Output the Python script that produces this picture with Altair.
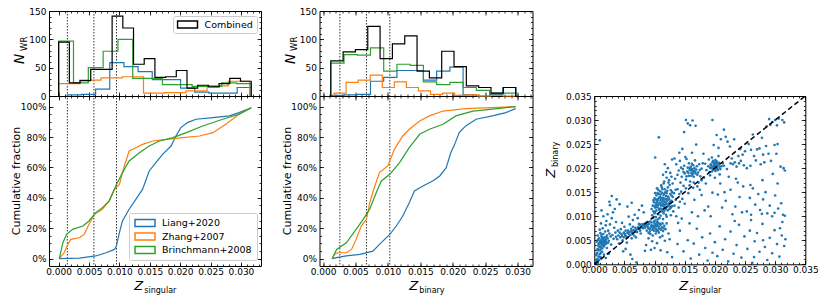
import altair as alt
import pandas as pd

FONT = "DejaVu Sans"
SERIES = ["Liang+2020", "Zhang+2007", "Brinchmann+2008"]
COLORS = ["#1f77b4", "#ff7f0e", "#2ca02c"]
COMB = "Combined"

# ---------------- Panel 1 (Z_singular) histograms ----------------
h1_comb_edges = [0.0, 0.00176, 0.00352, 0.00528, 0.00704, 0.0088, 0.01056, 0.01232, 0.01408, 0.01584,
                 0.0176, 0.01936, 0.02112, 0.02288, 0.02464, 0.0264, 0.02816, 0.02992, 0.03168]
h1_comb_counts = [95, 23, 27, 47, 47, 141, 120, 56, 66, 33, 34, 45, 14, 19, 16, 22, 31, 26]
h1_liang_edges = [0.00142, 0.00375, 0.00608, 0.00841, 0.01074, 0.01307, 0.0154, 0.01773, 0.02006,
                  0.02239, 0.02472, 0.02705, 0.02938, 0.03171]
h1_liang_counts = [2, 3, 12, 59, 52, 43, 29, 29, 14, 7, 5, 5, 15]
h1_zhang_edges = [0.0, 0.00349, 0.00698, 0.01047, 0.01396, 0.01745, 0.02094, 0.02443, 0.02792, 0.03141]
h1_zhang_counts = [22, 28, 32, 34, 5, 6, 9, 18, 26]
h1_brin_edges = [0.0, 0.00244, 0.00488, 0.00732, 0.00976, 0.0122, 0.01464, 0.01708, 0.01952, 0.02196,
                 0.0244, 0.02684, 0.02928, 0.03172]
h1_brin_counts = [97, 23, 50, 79, 100, 31, 31, 20, 20, 17, 17, 23, 22]

# ---------------- Panel 2 (Z_binary) histograms ----------------
h2_comb_edges = [0.0012, 0.0031, 0.0050, 0.0069, 0.0088, 0.0107, 0.0126, 0.0145, 0.0164, 0.0183,
                 0.0202, 0.0221, 0.0240, 0.0259, 0.0278, 0.0297]
h2_comb_counts = [62, 78, 82, 123, 66, 92, 106, 44, 32, 79, 52, 18, 15, 5, 15]
h2_brin_edges = [0.0012, 0.00324, 0.00528, 0.00732, 0.00936, 0.0114, 0.01344, 0.01548, 0.01752,
                 0.01956, 0.0216, 0.02364, 0.02568, 0.02772, 0.02976]
h2_brin_counts = [58, 73, 72, 85, 44, 56, 54, 25, 20, 24, 15, 10, 5, 5]
h2_liang_edges = h2_brin_edges
h2_liang_counts = [1, 2, 3, 26, 33, 45, 45, 28, 44, 51, 2, 0, 3, 15]
h2_zhang_edges = [0.0017, 0.00356, 0.00542, 0.00728, 0.00914, 0.011, 0.01286, 0.01472, 0.01658,
                  0.01844, 0.0203, 0.02216, 0.02402, 0.02588, 0.02774, 0.0296]
h2_zhang_counts = [5, 24, 28, 37, 15, 25, 15, 9, 3, 5, 1, 2, 0, 1, 0]

# ---------------- cumulative fractions ----------------
c1_liang_x = [0.0001, 0.0034, 0.0061, 0.0078, 0.0092, 0.0095, 0.0100, 0.0105, 0.0116, 0.0127, 0.0138,
              0.0149, 0.0160, 0.0171, 0.0185, 0.0193, 0.0201, 0.0212, 0.0226, 0.0254, 0.0281, 0.0297, 0.0317]
c1_liang_y = [0.0, 0.004, 0.018, 0.039, 0.061, 0.083, 0.171, 0.248, 0.325, 0.39, 0.456, 0.577, 0.632,
              0.686, 0.741, 0.807, 0.862, 0.895, 0.917, 0.928, 0.939, 0.961, 0.993]
c1_zhang_x = [0.0001, 0.0009, 0.0015, 0.0020, 0.0034, 0.0042, 0.0050, 0.0059, 0.0072, 0.0083, 0.0092,
              0.0100, 0.0108, 0.0116, 0.0127, 0.0138, 0.0155, 0.0177, 0.0204, 0.0232, 0.0254, 0.0275,
              0.0297, 0.0317]
c1_zhang_y = [0.0, 0.039, 0.094, 0.127, 0.138, 0.160, 0.226, 0.292, 0.325, 0.379, 0.456, 0.489, 0.610,
              0.708, 0.730, 0.752, 0.774, 0.785, 0.796, 0.807, 0.829, 0.884, 0.950, 0.993]
c1_brin_x = [0.0001, 0.0007, 0.0013, 0.0023, 0.0040, 0.0050, 0.0061, 0.0072, 0.0083, 0.0094, 0.0105,
             0.0116, 0.0133, 0.0149, 0.0166, 0.0188, 0.0210, 0.0237, 0.0270, 0.0297, 0.0317]
c1_brin_y = [0.0, 0.105, 0.160, 0.193, 0.215, 0.248, 0.303, 0.336, 0.379, 0.478, 0.566, 0.643, 0.697,
             0.741, 0.774, 0.796, 0.829, 0.873, 0.917, 0.950, 0.993]

c2_liang_x = [0.0014, 0.0021, 0.0036, 0.0057, 0.0077, 0.0087, 0.0103, 0.0113, 0.0123, 0.0133, 0.0141,
              0.0154, 0.0169, 0.0180, 0.0190, 0.0197, 0.0203, 0.0210, 0.0220, 0.0236, 0.0261, 0.0282, 0.0297]
c2_liang_y = [0.0, 0.007, 0.018, 0.029, 0.050, 0.094, 0.160, 0.215, 0.281, 0.368, 0.445, 0.478, 0.511,
              0.544, 0.599, 0.697, 0.752, 0.829, 0.873, 0.917, 0.939, 0.961, 0.987]
c2_zhang_x = [0.0014, 0.0018, 0.0023, 0.0036, 0.0044, 0.0051, 0.0059, 0.0067, 0.0072, 0.0080, 0.0087,
              0.0100, 0.0110, 0.0123, 0.0133, 0.0149, 0.0164, 0.0185, 0.0220, 0.0297]
c2_zhang_y = [0.0, 0.029, 0.039, 0.039, 0.061, 0.127, 0.215, 0.259, 0.368, 0.478, 0.566, 0.610, 0.719,
              0.807, 0.851, 0.906, 0.939, 0.971, 0.987, 1.0]
c2_brin_x = [0.0014, 0.0021, 0.0036, 0.0051, 0.0062, 0.0072, 0.0082, 0.0090, 0.0103, 0.0118, 0.0133,
             0.0149, 0.0164, 0.0185, 0.0205, 0.0231, 0.0272, 0.0297]
c2_brin_y = [0.0, 0.061, 0.105, 0.193, 0.259, 0.325, 0.434, 0.511, 0.555, 0.632, 0.730, 0.818, 0.851,
             0.884, 0.939, 0.971, 0.989, 1.0]

vlines_1 = [0.00143, 0.0058, 0.00952]
vlines_2 = [0.0026, 0.0067, 0.0103]

# ---------------- scatter (Z_singular, Z_binary) in units of 1e-3 ----------------
scatter_permille = [
    (0.4, 0.3), (0.6, 0.6), (0.5, 1.1), (0.8, 0.9), (0.7, 1.6), (0.9, 2.1), (0.5, 2.4), (1.1, 1.4), (0.6, 3.2),
    (0.9, 3.6), (0.7, 4.1), (1.0, 4.4), (1.2, 3.9), (1.3, 4.6), (1.5, 4.2), (1.1, 5.0), (1.4, 5.3), (1.6, 4.8),
    (1.8, 4.5), (1.7, 5.6), (1.9, 5.1), (2.0, 4.3), (1.3, 3.3), (1.6, 3.7), (2.2, 5.4), (2.1, 6.0), (2.4, 4.9),
    (1.2, 5.8), (0.8, 5.4), (1.5, 6.3), (1.8, 6.8), (1.0, 6.5), (0.6, 6.0), (2.3, 7.0), (1.4, 7.5), (1.9, 8.1),
    (1.1, 8.5), (2.6, 8.3), (2.0, 9.0), (0.9, 7.2), (2.7, 5.8), (2.5, 6.4), (3.0, 6.1), (2.8, 4.1), (3.2, 5.3),
    (1.7, 4.0), (2.1, 3.4), (1.3, 2.6), (0.8, 2.9), (0.4, 4.7), (1.0, 3.0), (2.4, 2.2), (1.9, 1.3), (1.6, 2.0),
    (0.3, 1.9), (3.5, 6.6), (3.3, 7.6), (2.9, 9.6), (3.6, 8.8), (1.5, 10.0), (2.2, 10.4), (1.2, 11.2),
    (2.6, 12.3), (3.4, 11.5), (0.9, 25.8), (2.9, 14.2), (2.5, 13.0), (3.7, 13.5), (4.2, 12.5), (3.1, 10.8),
    (0.7, 3.8), (1.0, 4.9), (1.2, 4.3), (1.4, 4.0), (1.5, 5.0), (1.7, 4.4), (0.9, 4.6), (1.1, 3.5), (1.3, 5.5),
    (1.6, 5.4), (1.8, 5.0), (2.0, 5.6), (0.5, 3.0), (0.8, 4.3), (1.2, 6.2), (0.6, 5.1), (1.4, 4.7), (1.9, 4.7),
    (2.3, 4.5), (0.4, 2.2), (0.3, 0.9), (0.6, 0.2), (0.2, 0.5), (0.9, 1.5), (1.1, 2.4),
    (3.8, 5.2), (4.0, 6.0), (4.3, 5.6), (4.5, 6.3), (4.7, 5.0), (4.9, 6.6), (5.1, 6.1), (5.3, 5.8), (5.5, 6.5),
    (5.6, 7.0), (5.8, 6.2), (6.0, 6.8), (6.1, 7.4), (6.3, 6.5), (6.5, 7.1), (6.6, 6.0), (6.8, 7.6), (7.0, 7.2),
    (7.1, 6.7), (7.3, 7.8), (7.5, 7.4), (7.6, 8.2), (7.8, 7.7), (8.0, 8.0), (8.1, 7.5), (8.3, 8.4), (8.5, 7.9),
    (8.6, 8.6), (8.8, 8.1), (4.4, 7.3), (5.0, 7.8), (5.9, 8.3), (6.4, 9.2), (7.2, 9.6), (5.4, 4.5), (6.2, 5.4),
    (4.1, 4.3), (7.7, 6.4), (6.9, 5.6), (3.9, 7.0), (4.6, 8.6), (5.7, 9.9), (6.7, 10.3), (8.2, 10.8),
    (7.4, 11.3), (5.2, 3.2), (6.0, 2.0), (6.3, 1.1), (7.0, 0.4), (4.8, 2.7), (8.4, 2.8), (5.5, 12.0),
    (6.2, 12.8), (7.9, 12.2),
    (4.2, 6.6), (4.6, 5.9), (5.0, 6.4), (5.2, 7.0), (5.7, 6.6), (6.2, 6.9), (6.4, 7.8), (6.7, 7.0), (7.2, 7.5),
    (7.6, 7.0), (7.9, 8.3), (8.2, 8.1), (8.4, 7.6), (5.5, 5.6), (6.0, 6.1), (6.9, 6.8), (7.4, 8.4), (8.7, 8.3),
    (4.9, 5.6), (3.6, 5.7),
    (8.7, 7.0), (9.0, 7.5), (9.2, 6.8), (9.4, 7.8), (9.6, 7.2), (9.8, 8.0), (10.0, 7.6), (10.2, 8.3),
    (10.4, 7.9), (10.6, 8.6), (10.8, 7.4), (11.0, 8.2), (11.2, 7.7), (9.1, 8.4), (9.5, 8.7), (9.9, 8.9),
    (10.3, 6.9), (10.7, 6.6), (11.4, 6.9), (11.6, 8.0), (9.3, 6.3), (8.9, 8.8), (10.1, 9.1), (10.5, 9.3),
    (11.8, 7.3), (12.0, 8.5), (9.7, 6.0), (10.9, 5.6), (11.3, 5.9), (12.3, 6.4), (9.0, 5.4), (9.6, 4.8),
    (10.4, 4.4), (8.6, 4.0), (11.7, 4.9), (12.5, 5.2), (10.0, 3.4), (11.0, 2.9), (12.1, 2.5), (9.4, 3.0),
    (9.2, 7.3), (9.5, 8.1), (9.8, 7.5), (10.1, 8.0), (10.3, 7.3), (10.5, 8.2), (10.7, 7.8), (10.9, 8.4),
    (11.1, 7.2), (9.3, 8.9), (9.9, 7.0), (10.6, 7.0), (11.3, 8.5), (8.9, 7.7), (10.0, 8.5), (10.4, 8.8),
    (9.6, 7.9), (11.5, 7.5), (10.2, 6.4), (9.0, 6.5),
    (9.6, 10.2), (9.8, 11.0), (10.0, 10.6), (10.1, 11.8), (10.2, 12.4), (10.3, 11.2), (10.4, 13.0),
    (10.5, 12.1), (10.6, 13.6), (10.7, 11.6), (10.8, 12.8), (10.9, 14.0), (11.0, 13.3), (11.1, 12.2),
    (11.2, 11.0), (11.3, 13.8), (11.4, 12.6), (11.5, 14.4), (11.6, 13.1), (11.7, 11.7), (11.8, 12.9),
    (11.9, 14.2), (12.0, 13.5), (12.1, 12.0), (12.2, 11.2), (12.3, 13.9), (12.4, 12.7), (12.6, 14.6),
    (12.8, 13.2), (10.0, 13.7), (10.3, 14.3), (10.6, 10.4), (11.0, 10.1), (11.5, 10.6), (11.9, 10.3),
    (12.5, 11.5), (12.9, 12.1), (9.9, 12.9), (10.9, 15.2), (11.3, 15.6), (11.8, 15.0), (12.2, 16.0),
    (12.7, 15.4), (11.1, 16.4), (10.4, 15.8), (11.6, 17.2), (12.0, 18.0), (12.4, 17.5), (11.4, 18.6),
    (11.9, 19.2), (12.2, 20.0), (11.7, 20.8), (12.6, 19.0), (13.0, 16.8), (13.2, 14.8), (13.5, 13.4),
    (13.3, 12.2), (13.8, 15.6), (9.7, 9.6), (10.2, 9.8), (10.8, 9.6), (11.4, 9.4), (12.0, 9.9), (12.7, 10.2),
    (13.1, 11.0), (13.6, 10.0), (14.0, 11.8), (14.2, 13.0), (13.9, 8.6), (14.5, 9.5), (10.7, 26.4),
    (10.1, 22.2),
    (9.5, 11.5), (9.7, 12.2), (9.8, 13.3), (10.0, 12.0), (10.1, 10.9), (10.2, 13.5), (10.3, 12.8),
    (10.4, 11.9), (10.5, 13.3), (10.5, 14.8), (10.6, 12.4), (10.7, 14.6), (10.8, 11.3), (10.8, 13.9),
    (10.9, 12.5), (11.0, 11.6), (11.0, 14.5), (11.1, 13.7), (11.2, 12.9), (11.2, 14.9), (11.3, 11.4),
    (11.3, 12.3), (11.4, 13.4), (11.5, 12.0), (11.5, 13.7), (11.6, 11.1), (11.6, 14.7), (11.7, 12.4),
    (11.8, 13.6), (11.9, 11.5), (12.0, 12.6), (12.0, 14.8), (12.1, 13.2), (12.2, 14.1), (12.3, 12.3),
    (12.4, 13.5), (12.5, 12.0), (12.6, 13.0), (12.7, 11.8), (12.8, 14.3), (10.1, 14.8), (10.6, 15.5),
    (11.2, 16.0), (11.7, 15.6), (12.1, 15.3), (12.5, 16.5), (12.9, 15.0), (11.5, 16.8), (12.3, 17.0),
    (12.8, 18.2),
    (13.4, 17.8), (13.8, 18.6), (14.0, 19.5), (14.3, 17.0), (14.5, 18.2), (14.7, 19.8), (14.9, 20.5),
    (15.0, 18.9), (15.2, 17.6), (15.4, 19.3), (15.5, 20.1), (15.7, 18.4), (15.8, 19.6), (16.0, 20.3),
    (16.1, 19.0), (16.2, 19.8), (16.3, 18.7), (16.4, 20.6), (16.5, 19.4), (16.6, 20.0), (16.8, 18.9),
    (16.9, 19.7), (17.0, 20.4), (17.2, 19.1), (17.4, 20.8), (17.6, 18.3), (17.8, 19.9), (18.0, 21.0),
    (14.2, 21.5), (15.3, 21.9), (16.7, 21.6), (13.6, 20.8), (14.8, 16.3), (15.9, 17.2), (17.3, 17.0),
    (18.2, 18.0), (15.1, 22.3), (16.2, 23.2), (14.6, 24.0), (14.1, 23.2), (13.3, 22.0), (12.9, 21.8),
    (16.9, 24.9), (15.6, 14.8), (16.4, 15.9), (17.1, 16.2), (14.4, 15.1), (15.0, 12.6), (16.6, 13.4),
    (17.8, 14.4), (13.0, 14.0), (13.5, 15.5), (14.1, 14.6), (14.6, 13.6), (15.2, 15.8), (15.8, 16.4),
    (16.5, 17.0), (17.5, 15.5), (18.5, 16.8), (17.8, 17.5),
    (15.6, 19.0), (15.9, 20.0), (16.1, 18.4), (16.3, 19.5), (16.4, 19.1), (16.7, 19.3), (16.0, 19.6),
    (16.2, 20.9), (15.3, 18.3), (14.8, 19.2), (17.1, 18.6), (16.5, 18.2), (15.7, 21.0), (17.5, 19.6),
    (14.4, 20.1),
    (18.6, 19.6), (18.9, 20.4), (19.1, 19.2), (19.3, 20.8), (19.4, 20.0), (19.6, 21.2), (19.7, 19.6),
    (19.8, 20.5), (19.9, 21.0), (20.0, 20.2), (20.1, 19.4), (20.2, 20.9), (20.3, 21.4), (20.4, 20.0),
    (20.5, 20.6), (20.7, 21.1), (20.9, 19.8), (21.1, 20.4), (19.5, 22.2), (20.6, 22.5), (19.0, 21.8),
    (21.3, 21.0), (18.4, 20.9), (19.2, 18.5), (20.0, 18.0), (20.8, 18.7), (21.0, 26.0), (20.3, 26.9),
    (19.8, 24.8), (20.6, 24.2), (19.6, 30.0), (18.1, 23.0),
    (19.4, 20.6), (19.6, 20.2), (19.8, 19.9), (19.9, 20.7), (20.0, 21.2), (20.1, 20.5), (20.2, 19.8),
    (20.3, 20.3), (20.4, 21.0), (19.7, 21.5), (19.2, 20.1), (20.5, 19.6), (20.1, 21.7), (19.5, 19.3),
    (20.8, 20.3),
    (15.2, 30.0), (16.3, 29.9), (15.9, 28.9), (14.9, 27.5), (16.8, 28.8), (15.5, 29.3),
    (21.5, 20.5), (22.0, 19.8), (22.6, 21.0), (23.0, 20.8), (23.3, 21.2), (23.6, 20.3), (24.0, 21.0),
    (24.3, 21.5), (24.8, 20.6), (22.8, 22.0), (23.9, 22.5), (25.3, 20.0), (22.3, 18.2), (23.5, 17.8),
    (21.8, 26.5), (22.1, 25.5), (21.5, 28.0), (22.5, 24.5), (23.2, 26.0), (24.2, 24.0), (25.0, 23.5),
    (25.6, 25.0), (24.6, 22.8), (26.0, 23.8), (26.5, 22.5), (27.0, 23.9), (27.4, 24.1), (28.0, 22.8),
    (28.5, 24.6), (28.9, 23.0), (29.3, 21.5), (29.9, 24.8), (30.4, 25.0), (30.9, 20.3), (31.4, 20.0),
    (31.6, 19.5), (29.6, 18.8), (27.6, 20.8), (26.8, 21.6), (25.9, 20.5), (28.2, 21.2), (30.2, 23.0),
    (29.0, 30.2), (29.5, 29.6), (30.0, 30.0), (30.6, 30.3), (29.2, 29.0), (31.2, 30.0), (28.6, 28.7),
    (30.3, 28.9), (31.5, 29.5), (26.3, 27.0), (27.8, 26.3),
    (20.5, 14.5), (21.2, 11.8), (21.8, 13.2), (22.6, 15.5), (23.4, 12.0), (24.1, 14.0), (24.7, 16.2),
    (25.3, 11.0), (25.8, 13.8), (26.3, 15.8), (26.7, 12.4), (27.2, 14.6), (27.5, 11.3), (28.0, 13.5),
    (28.4, 15.0), (28.7, 10.6), (29.1, 12.2), (29.5, 10.0), (30.0, 14.3), (30.5, 11.6), (31.0, 12.7),
    (31.3, 10.3), (31.6, 10.1), (31.2, 8.8), (30.8, 7.5), (22.9, 10.4), (24.5, 10.8), (26.0, 10.3),
    (27.8, 10.5), (29.9, 10.7), (20.9, 16.8), (21.6, 15.0), (23.8, 17.0), (25.9, 16.5), (27.9, 17.5),
    (30.4, 16.8), (19.3, 10.0), (18.9, 12.0), (19.6, 14.9), (18.3, 11.2),
    (14.8, 2.7), (15.5, 5.0), (16.0, 1.2), (16.5, 4.3), (17.0, 7.4), (17.4, 2.0), (17.9, 5.6), (18.4, 3.4),
    (18.8, 0.8), (19.2, 6.4), (19.6, 2.4), (20.0, 4.6), (20.4, 1.7), (20.8, 7.9), (21.3, 3.0), (21.7, 5.2),
    (22.2, 0.6), (22.6, 6.8), (23.1, 2.2), (23.6, 4.0), (24.0, 8.2), (24.4, 1.4), (24.9, 5.8), (25.4, 3.2),
    (25.8, 7.0), (26.2, 0.3), (26.5, 1.5), (26.6, 4.8), (27.0, 6.5), (27.4, 2.6), (27.9, 8.4), (28.3, 3.6),
    (28.7, 0.9), (29.1, 5.5), (29.5, 2.3), (29.9, 7.1), (30.3, 4.2), (30.7, 1.6), (31.1, 6.0), (31.5, 3.8),
    (31.7, 5.2), (28.0, 5.0), (26.0, 9.2), (23.3, 9.0), (13.8, 4.2), (12.9, 1.5), (14.2, 7.0), (15.8, 8.5),
    (17.2, 10.0), (16.2, 10.8),
]
diag = [0.0, 0.035]

# ---------------- tick values ----------------
xt_major = [0.0, 0.005, 0.010, 0.015, 0.020, 0.025, 0.030]
sc_major = [0.0, 0.005, 0.010, 0.015, 0.020, 0.025, 0.030, 0.035]
minor_001 = [round(i * 0.001, 3) for i in range(0, 36)]
hist_major = [0, 50, 100, 150]
hist_minor = [i * 10 for i in range(0, 16)]
cum_major = [0.0, 0.2, 0.4, 0.6, 0.8, 1.0]
cum_minor = [round(i * 0.05, 2) for i in range(0, 21)]

# ---------------- geometry (pixels) ----------------
W1, W2 = 212, 213
HH, HC = 85, 170
H = HH + HC
SC_L, SC_R, SC_T, SC_B = 3.3, 214.3, 85, 253.3
W3 = SC_R
GAP = 58.5
X1DOM = [-0.00159, 0.0333]
X2DOM = [-0.00054, 0.0323]
HDOM = [0, 150]
CDOM = [-0.048, 1.07]
SDOM = [0.0, 0.035]

ONE = pd.DataFrame({"a": [0]})


def in_dom(vals, dom):
    return [v for v in vals if dom[0] - 1e-12 <= v <= dom[1] + 1e-12]


def ax(orient, values=None, size=0, offset=0, labels=False, fmt=None, pad=2, domain=False):
    kw = dict(orient=orient, offset=offset, grid=False, title=None, labels=labels, domain=domain)
    if values is not None:
        kw["values"] = values
    if size:
        kw.update(ticks=True, tickSize=size, tickColor="black", tickWidth=0.8)
    else:
        kw["ticks"] = False
    if domain:
        kw.update(domainColor="black", domainWidth=1)
    if labels:
        kw.update(format=fmt, labelFontSize=9, labelPadding=pad, labelColor="black", labelFont=FONT,
                  labelOverlap=False, labelFlush=False)
    return alt.Axis(**kw)


def axis_layer(xs, ys, xval, yval, xaxis, yaxis):
    df = pd.DataFrame({"fx": [xval], "fy": [yval]})
    return alt.Chart(df).mark_point(opacity=0).encode(
        x=alt.X("fx:Q", scale=xs, axis=xaxis), y=alt.Y("fy:Q", scale=ys, axis=yaxis))


def txt(text, x, y, size, angle=0, italic=False, align="left", baseline="alphabetic"):
    kw = dict(text=text, fontSize=size, font=FONT, color="black", align=align, baseline=baseline)
    if angle:
        kw["angle"] = angle
    if italic:
        kw["fontStyle"] = "italic"
    return alt.Chart(ONE).mark_text(**kw).encode(x=alt.value(x), y=alt.value(y))


def step_rows(series, edges, counts):
    pts = [(edges[0], 0)]
    for e, c in zip(edges[:-1], counts):
        pts.append((e, c))
    pts.append((edges[-1], counts[-1]))
    pts.append((edges[-1], 0))
    return [dict(series=series, x=x, n=n, idx=i) for i, (x, n) in enumerate(pts)]


def cum_rows(series, xs, ys):
    return [dict(series=series, x=x, f=f, idx=i) for i, (x, f) in enumerate(zip(xs, ys))]


def legend_box(**kw):
    base = dict(title=None, symbolType="M-1,-0.35H1V0.35H-1Z", symbolSize=400, symbolStrokeWidth=1.5,
                labelFontSize=9.5, labelFont=FONT, labelColor="black", padding=5, rowPadding=3.5,
                clipHeight=10, labelOffset=6, strokeColor="#cccccc", fillColor="white", cornerRadius=2)
    base.update(kw)
    return alt.Legend(**base)


def column(hists, curves, xdom, vlines, width, show_legend, sub, zx):
    XS = alt.Scale(domain=xdom, nice=False, zero=False)
    YH = alt.Scale(domain=HDOM, range=[HH, 0], nice=False, zero=False)
    YC = alt.Scale(domain=CDOM, range=[H, HH], nice=False, zero=False)

    hrows = []
    for s, e, c in hists:
        hrows += step_rows(s, e, c)
    crows = []
    for s, xs_, ys_ in curves:
        crows += cum_rows(s, xs_, ys_)

    hscale = alt.Scale(domain=SERIES + [COMB], range=COLORS + ["black"])
    cscale = alt.Scale(domain=SERIES, range=COLORS)
    if show_legend:
        hcol = alt.Color("series:N", scale=hscale,
                         legend=legend_box(values=[COMB], orient="none", legendX=124, legendY=5, padding=3.5))
        ccol = alt.Color("series:N", scale=cscale,
                         legend=legend_box(orient="none", legendX=80, legendY=HH + 117))
    else:
        hcol = alt.Color("series:N", scale=hscale, legend=None)
        ccol = alt.Color("series:N", scale=cscale, legend=None)

    vl = alt.Chart(pd.DataFrame({"v": vlines})).mark_rule(
        strokeDash=[1.5, 1.5], strokeWidth=0.8, color="black").encode(x=alt.X("v:Q", scale=XS, axis=None))
    hl = alt.Chart(pd.DataFrame(hrows)).mark_line(interpolate="step-after", strokeWidth=1.2, clip=True).encode(
        x=alt.X("x:Q", scale=XS, axis=None), y=alt.Y("n:Q", scale=YH, axis=None),
        color=hcol, order="idx:Q")
    cl = alt.Chart(pd.DataFrame(crows)).mark_line(strokeWidth=1.2, clip=True).encode(
        x=alt.X("x:Q", scale=XS, axis=None), y=alt.Y("f:Q", scale=YC, axis=None),
        color=ccol, order="idx:Q")

    xm, xn = in_dom(xt_major, xdom), in_dom(minor_001, xdom)
    cm, cn = in_dom(cum_major, CDOM), in_dom(cum_minor, CDOM)
    xmid = (xdom[0] + xdom[1]) / 2
    frames = [
        # histogram panel
        axis_layer(XS, YH, xmid, 75, ax("top", xm, 4, -4),
                   ax("left", hist_major, 4, -4, True, "d", 3)),
        axis_layer(XS, YH, xmid, 75, ax("top", xn, 2, -2), ax("left", hist_minor, 2, -2)),
        axis_layer(XS, YH, xmid, 75, ax("top", xm, 4, -HH, domain=True), ax("right", hist_major, 4, -4)),
        axis_layer(XS, YH, xmid, 75, ax("top", xn, 2, -HH), ax("right", hist_minor, 2, -2)),
        # cumulative panel
        axis_layer(XS, YC, xmid, 0.5, ax("bottom", xm, 4, -4, True, ".3f", 1.5),
                   ax("left", cm, 4, -4, True, ".0%", 3)),
        axis_layer(XS, YC, xmid, 0.5, ax("bottom", xn, 2, -2), ax("left", cn, 2, -2)),
        axis_layer(XS, YC, xmid, 0.5, ax("bottom", xm, 4, -HC), ax("right", cm, 4, -4)),
        axis_layer(XS, YC, xmid, 0.5, ax("bottom", xn, 2, -HC), ax("right", cn, 2, -2)),
    ]
    texts = [
        txt("N", -25, 53, 13.5, angle=270, italic=True),
        txt("WR", -22.5, 40, 8.5, angle=270),
        txt("Cumulative fraction", -29, HH + HC / 2, 11, angle=270, align="center"),
        txt("Z", zx, HH + 194, 13, italic=True),
        txt(sub, zx + 10, HH + 197, 8),
    ]
    return alt.layer(vl, hl, cl, *frames, *texts).resolve_scale(
        y="independent", color="independent").resolve_axis(x="independent", y="independent").properties(
        width=width, height=H)


col1 = column([(SERIES[0], h1_liang_edges, h1_liang_counts),
               (SERIES[1], h1_zhang_edges, h1_zhang_counts),
               (SERIES[2], h1_brin_edges, h1_brin_counts),
               (COMB, h1_comb_edges, h1_comb_counts)],
              [(SERIES[0], c1_liang_x, c1_liang_y),
               (SERIES[1], c1_zhang_x, c1_zhang_y),
               (SERIES[2], c1_brin_x, c1_brin_y)],
              X1DOM, vlines_1, W1, True, "singular", 85.3)
col2 = column([(SERIES[0], h2_liang_edges, h2_liang_counts),
               (SERIES[1], h2_zhang_edges, h2_zhang_counts),
               (SERIES[2], h2_brin_edges, h2_brin_counts),
               (COMB, h2_comb_edges, h2_comb_counts)],
              [(SERIES[0], c2_liang_x, c2_liang_y),
               (SERIES[1], c2_zhang_x, c2_zhang_y),
               (SERIES[2], c2_brin_x, c2_brin_y)],
              X2DOM, vlines_2, W2, False, "binary", 89.8)

# ---------------- scatter column ----------------
XSS = alt.Scale(domain=SDOM, range=[SC_L, SC_R], nice=False, zero=False)
YSS = alt.Scale(domain=SDOM, range=[SC_B, SC_T], nice=False, zero=False)
sc_df = pd.DataFrame({"zs": [p[0] / 1000 for p in scatter_permille],
                      "zb": [p[1] / 1000 for p in scatter_permille]})
pts = alt.Chart(sc_df).mark_circle(size=7, color="#1f77b4", opacity=1).encode(
    x=alt.X("zs:Q", scale=XSS, axis=None), y=alt.Y("zb:Q", scale=YSS, axis=None))
dline = alt.Chart(pd.DataFrame({"d": diag})).mark_line(
    color="black", strokeDash=[5, 3], strokeWidth=1.5).encode(
    x=alt.X("d:Q", scale=XSS, axis=None), y=alt.Y("d:Q", scale=YSS, axis=None))
sn = minor_001
bot = SC_B - H
sc_frames = [
    axis_layer(XSS, YSS, 0.0175, 0.0175, ax("bottom", sc_major, 4, bot - 4, True, ".3f", 1.5),
               ax("left", sc_major, 4, -SC_L - 4, True, ".3f", 3)),
    axis_layer(XSS, YSS, 0.0175, 0.0175, ax("bottom", sn, 2, bot - 2), ax("left", sn, 2, -SC_L - 2)),
    axis_layer(XSS, YSS, 0.0175, 0.0175, ax("top", sc_major, 4, -SC_T - 4), ax("right", sc_major, 4, -4)),
    axis_layer(XSS, YSS, 0.0175, 0.0175, ax("top", sn, 2, -SC_T - 2), ax("right", sn, 2, -2)),
    axis_layer(XSS, YSS, 0.0175, 0.0175, ax("bottom", offset=bot, domain=True),
               ax("left", offset=-SC_L, domain=True)),
    axis_layer(XSS, YSS, 0.0175, 0.0175, ax("top", offset=-SC_T, domain=True),
               ax("right", offset=0, domain=True)),
]
sc_texts = [
    txt("Z", SC_L - 39, SC_T + 81.7, 13, angle=270, italic=True),
    txt("binary", SC_L - 36.8, SC_T + 71, 8, angle=270),
    txt("Z", SC_L + 85, SC_T + 194, 13, italic=True),
    txt("singular", SC_L + 95, SC_T + 197, 8),
]
col3 = alt.layer(pts, dline, *sc_frames, *sc_texts).resolve_axis(
    x="independent", y="independent").properties(width=W3, height=H, view=alt.ViewBackground(strokeOpacity=0))

chart = alt.hconcat(col1, col2, col3, spacing=GAP, bounds="flush").resolve_scale(
    color="independent").properties(
    padding={"left": 2, "top": -2, "right": 2, "bottom": 0}
).configure(font=FONT).configure_view(stroke="black", strokeWidth=1)

chart.save("out.html", embed_options={"renderer": "svg", "actions": False})
